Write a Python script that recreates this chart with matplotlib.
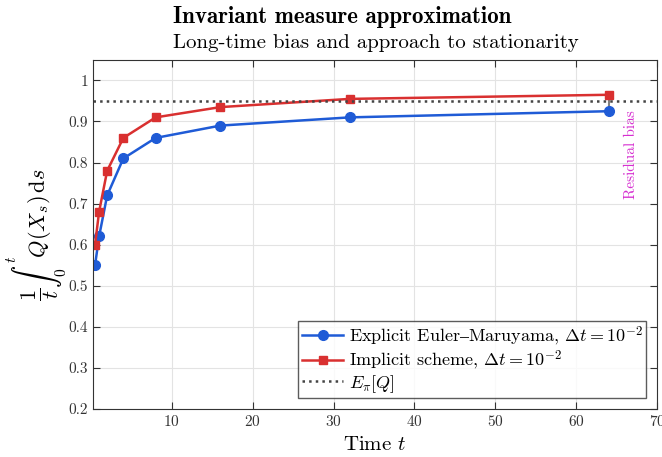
import numpy as np
import matplotlib.pyplot as plt

plt.rcParams['font.family'] = 'serif'
plt.rcParams['font.serif'] = ['cmr10', 'DejaVu Serif']
plt.rcParams['mathtext.fontset'] = 'cm'
plt.rcParams['axes.formatter.use_mathtext'] = True

t = [0.5, 1, 2, 4, 8, 16, 32, 64]
explicit = [0.55, 0.62, 0.72, 0.81, 0.86, 0.89, 0.91, 0.925]
implicit = [0.60, 0.68, 0.78, 0.86, 0.91, 0.935, 0.955, 0.965]
e_pi = 0.95

fig = plt.figure(figsize=(6.62, 4.57), dpi=100)
ax = fig.add_axes([0.1405, 0.105, 0.852, 0.764])

ax.plot(t, explicit, '-o', color='#1f5bd6', lw=1.8, ms=7,
        label='Explicit Euler$\\mathrm{\u2013}$Maruyama, $\\Delta t = 10^{-2}$')
ax.plot(t, implicit, '-s', color='#d93030', lw=1.8, ms=6,
        label=r'Implicit scheme, $\Delta t = 10^{-2}$')
ax.axhline(e_pi, color='#444444', ls=':', lw=1.8, label=r'$E_\pi[Q]$')

# residual bias marker
ax.plot([t[-1], t[-1]], [explicit[-1], implicit[-1]], color='#808080', lw=1.5, zorder=1)
ax.text(66.8, 0.82, 'Residual bias', rotation=90, color='#d62fd0',
        fontsize=11, ha='center', va='center')

ax.set_xlim(0.25, 70)
ax.set_ylim(0.2, 1.05)
ax.set_xticks([10, 20, 30, 40, 50, 60, 70])
ax.set_yticks(np.arange(0.2, 1.01, 0.1))
ax.set_yticklabels(['%g' % v for v in np.round(np.arange(0.2, 1.01, 0.1), 1)])
ax.grid(True, color='#e3e3e3', lw=0.8)
ax.set_axisbelow(True)
ax.tick_params(direction='in', top=True, right=True, labelsize=11, colors='#333333',
               length=5)
for s in ax.spines.values():
    s.set_color('#333333')

ax.set_xlabel(r'Time $t$', fontsize=15, labelpad=5)
ax.set_ylabel(r'$\dfrac{1}{t}\int_0^t Q(X_s)\,\mathrm{d}s$', fontsize=16, labelpad=0)

leg = ax.legend(loc='lower right', fontsize=13, fancybox=False, edgecolor='#333333',
                handlelength=2.3, handletextpad=0.3, borderpad=0.2, labelspacing=0.05,
                borderaxespad=0.6)
leg.get_frame().set_linewidth(1.0)

fig.text(0.261, 0.962, 'Invariant measure approximation', ha='left', va='center',
         fontsize=16.5, family='cmb10')
fig.text(0.261, 0.907, 'Long-time bias and approach to stationarity', ha='left',
         va='center', fontsize=15)

fig.savefig('out.png', dpi=100)
